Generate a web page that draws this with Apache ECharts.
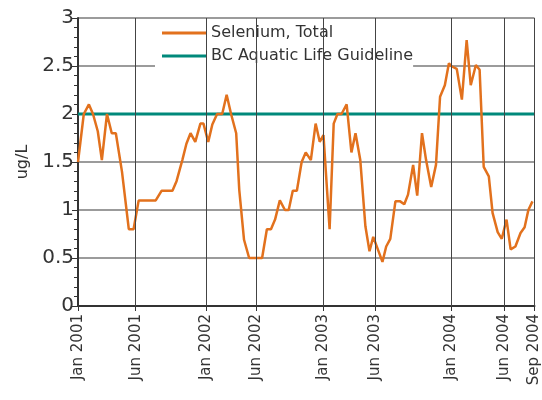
<!DOCTYPE html>
<html>
<head>
<meta charset="utf-8">
<script src="https://cdn.jsdelivr.net/npm/echarts@6/dist/echarts.min.js"></script>
<style>
  html, body { margin: 0; padding: 0; background: #fff; }
  #chart { width: 542px; height: 400px; }
</style>
</head>
<body>
<div id="chart"></div>
<script>
// sample dates and selenium values (ug/L)
var sampleDates = [
  '2001-01-01', '2001-01-18', '2001-02-02', '2001-02-14', '2001-02-28', '2001-03-12',
  '2001-03-27', '2001-04-10', '2001-04-22', '2001-05-10', '2001-05-30', '2001-06-13',
  '2001-06-28', '2001-08-17', '2001-09-03', '2001-10-05', '2001-10-17', '2001-11-03',
  '2001-11-15', '2001-11-27', '2001-12-11', '2001-12-26', '2002-01-04', '2002-01-18',
  '2002-01-30', '2002-02-13', '2002-02-28', '2002-03-13', '2002-03-26', '2002-04-10',
  '2002-04-19', '2002-05-03', '2002-05-18', '2002-06-25', '2002-07-09', '2002-07-21',
  '2002-08-02', '2002-08-16', '2002-08-31', '2002-09-11', '2002-09-23', '2002-10-05',
  '2002-10-19', '2002-10-31', '2002-11-15', '2002-11-29', '2002-12-11', '2002-12-22',
  '2003-01-09', '2003-01-21', '2003-02-01', '2003-02-13', '2003-02-28', '2003-03-14',
  '2003-03-26', '2003-04-09', '2003-04-24', '2003-05-06', '2003-05-17', '2003-06-13',
  '2003-06-24', '2003-07-06', '2003-07-21', '2003-08-04', '2003-08-16', '2003-08-27',
  '2003-09-11', '2003-09-23', '2003-10-07', '2003-10-19', '2003-11-03', '2003-11-17',
  '2003-11-29', '2003-12-13', '2003-12-25', '2003-12-31', '2004-01-17', '2004-02-01',
  '2004-02-15', '2004-02-27', '2004-03-13', '2004-03-24', '2004-04-05', '2004-04-20',
  '2004-05-01', '2004-05-16', '2004-05-28', '2004-06-11', '2004-06-23', '2004-07-07',
  '2004-07-22', '2004-08-03', '2004-08-14', '2004-08-26'
]
var seleniumValues = [
  1.5, 2.0, 2.1, 2.0, 1.82, 1.52,
  2.0, 1.8, 1.8, 1.4, 0.8, 0.8,
  1.1, 1.1, 1.2, 1.2, 1.3, 1.52,
  1.69, 1.8, 1.71, 1.9, 1.9, 1.71,
  1.89, 2.0, 2.0, 2.2, 2.0, 1.8,
  1.21, 0.69, 0.5, 0.5, 0.8, 0.8,
  0.9, 1.1, 1.0, 1.0, 1.2, 1.2,
  1.5, 1.6, 1.52, 1.9, 1.71, 1.78,
  0.8, 1.9, 2.0, 2.0, 2.1, 1.6,
  1.8, 1.52, 0.83, 0.57, 0.72, 0.46,
  0.62, 0.7, 1.09, 1.09, 1.06, 1.16,
  1.47, 1.15, 1.8, 1.52, 1.24, 1.47,
  2.18, 2.3, 2.53, 2.5, 2.47, 2.15,
  2.77, 2.3, 2.51, 2.46, 1.45, 1.35,
  0.97, 0.77, 0.7, 0.9, 0.59, 0.62,
  0.76, 0.82, 1.0, 1.09
]
// guideline
var guideDates = ['2001-01-01', '2004-09-01']
var guideValues = [2, 2]

// x axis ticks as placed in the original plot
var tickDates = ['2001-01-01', '2001-06-19', '2002-01-12', '2002-06-07',
  '2002-12-20', '2003-05-23', '2003-12-31', '2004-06-05', '2004-09-01']
var tickLabels = ['Jan 2001', 'Jun 2001', 'Jan 2002', 'Jun 2002',
  'Jan 2003', 'Jun 2003', 'Jan 2004', 'Jun 2004', 'Sep 2004']

var yTicks = [0, 0.5, 1, 1.5, 2, 2.5, 3]

var FONT = 'DejaVu Sans'
function toTime(d) { return Date.parse(d + 'T00:00:00Z') }
var tickTimes = tickDates.map(toTime)

var chart = echarts.init(document.getElementById('chart'))

var option = {
  animation: false,
  textStyle: { fontFamily: FONT },
  grid: { left: 78, right: 5, top: 18, bottom: 94, containLabel: false },
  legend: {
    orient: 'vertical',
    left: 155,
    top: 20,
    padding: [3, 0, 3, 7],
    itemGap: 3,
    itemWidth: 44,
    itemHeight: 3,
    icon: 'rect',
    backgroundColor: '#fff',
    textStyle: { fontFamily: FONT, fontSize: 16, lineHeight: 20, color: '#333' },
    data: ['Selenium, Total', 'BC Aquatic Life Guideline']
  },
  xAxis: {
    type: 'value',
    min: tickTimes[0],
    max: tickTimes[tickTimes.length - 1],
    axisLine: { show: true, onZero: false, lineStyle: { color: '#333', width: 2 } },
    axisTick: { show: true, customValues: tickTimes, length: 5, lineStyle: { color: '#333' } },
    axisLabel: {
      customValues: tickTimes,
      rotate: 90,
      fontSize: 15,
      color: '#333',
      margin: 8,
      formatter: function (v) {
        var i = tickTimes.indexOf(+v)
        return i >= 0 ? tickLabels[i] : ''
      }
    },
    splitLine: { show: false }
  },
  yAxis: {
    type: 'value',
    min: yTicks[0],
    max: yTicks[yTicks.length - 1],
    interval: 0.5,
    name: 'ug/L',
    nameLocation: 'middle',
    nameGap: 44,
    nameTextStyle: { fontFamily: FONT, fontSize: 16, color: '#333' },
    axisLine: { show: true, lineStyle: { color: '#333', width: 2 } },
    axisTick: { show: true, length: 6, lineStyle: { color: '#333' } },
    minorTick: { show: true, splitNumber: 5, length: 4, lineStyle: { color: '#333' } },
    axisLabel: { fontSize: 20, color: '#333', margin: 4 },
    splitLine: { show: true, lineStyle: { color: '#7a7a7a', width: 1.5 } }
  },
  series: [
    {
      name: 'BC Aquatic Life Guideline',
      type: 'line',
      data: guideDates.map(function (d, i) { return [toTime(d), guideValues[i]] }),
      symbol: 'none',
      lineStyle: { color: '#00897b', width: 3 },
      itemStyle: { color: '#00897b' },
      z: 3,
      markLine: {
        silent: true,
        symbol: 'none',
        label: { show: false },
        lineStyle: { color: '#444', width: 1, type: 'solid' },
        data: tickTimes.slice(1).map(function (t) { return { xAxis: t } })
      }
    },
    {
      name: 'Selenium, Total',
      type: 'line',
      data: sampleDates.map(function (d, i) { return [toTime(d), seleniumValues[i]] }),
      symbol: 'none',
      lineStyle: { color: '#e2711d', width: 2.5 },
      itemStyle: { color: '#e2711d' },
      z: 4
    }
  ]
}

chart.setOption(option)
</script>
</body>
</html>
